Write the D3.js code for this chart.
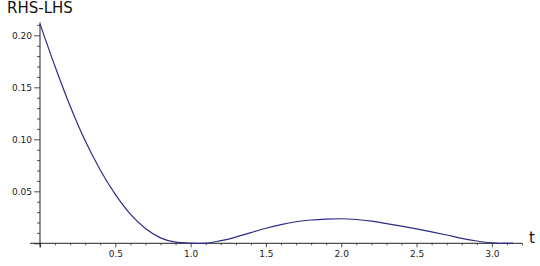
<!DOCTYPE html>
<html>
<head>
<meta charset="utf-8">
<script src="https://cdn.jsdelivr.net/npm/d3@7"></script>
<style>
  body { margin: 0; background: #fff; }
  svg { display: block; font-family: "DejaVu Sans", sans-serif; }
</style>
</head>
<body>
<svg id="chart" width="540" height="266"></svg>
<script>
// values
const tValues = [0, 0.1, 0.2, 0.3, 0.4, 0.5, 0.6, 0.7, 0.8, 0.9, 1.0, 1.07, 1.1, 1.2, 1.3, 1.4, 1.5, 1.6, 1.7, 1.8, 1.9, 2.0, 2.1, 2.2, 2.3, 2.4, 2.5, 2.6, 2.7, 2.8, 2.9, 3.0, 3.05, 3.14];
const diffValues = [0.211, 0.170, 0.132, 0.0985, 0.0705, 0.047, 0.028, 0.0142, 0.0052, 0.0011, 0.0002, 0, 0.0001, 0.0025, 0.006, 0.0102, 0.0145, 0.018, 0.0207, 0.0224, 0.0233, 0.0236, 0.0229, 0.0213, 0.019, 0.0165, 0.0138, 0.011, 0.008, 0.0048, 0.0022, 0.0004, 0, 0.0001];

const xMajor = [0, 0.5, 1.0, 1.5, 2.0, 2.5, 3.0];
const yMajor = [0, 0.05, 0.10, 0.15, 0.20];

const data = tValues.map((t, i) => ({ t: t, v: diffValues[i] }));

const svg = d3.select("#chart");

const x = d3.scaleLinear().domain([0, 3.2]).range([40, 522]);
const y = d3.scaleLinear().domain([0, 0.2]).range([243.3, 35.3]);

const axisColor = "#222";

// minor ticks every 0.1 on t, every 0.01 on the value axis
const xMinor = d3.range(1, 33).filter((d) => d % 5 !== 0).map((d) => d / 10);
const yMinor = d3.range(1, 22).filter((d) => d % 5 !== 0).map((d) => d / 100);

svg
  .append("g")
  .attr("transform", `translate(0,${y(0)})`)
  .call(d3.axisBottom(x).tickValues(xMinor).tickSize(2).tickFormat(""));

svg
  .append("g")
  .attr("transform", `translate(0,${y(0)})`)
  .call(
    d3
      .axisBottom(x)
      .tickValues(xMajor)
      .tickSize(4)
      .tickPadding(3)
      .tickFormat((d) => (d === 0 ? "" : d3.format(".1f")(d)))
  );

svg
  .append("g")
  .attr("transform", `translate(${x(0)},0)`)
  .call(d3.axisLeft(y).tickValues(yMinor).tickSize(3).tickFormat(""));

svg
  .append("g")
  .attr("transform", `translate(${x(0)},0)`)
  .call(
    d3
      .axisLeft(y)
      .tickValues(yMajor)
      .tickSize(6)
      .tickPadding(2)
      .tickFormat((d) => (d === 0 ? "" : d3.format(".2f")(d)))
  );

// axis lines drawn by hand so they can run past the ticks
svg.selectAll(".domain").remove();
svg.selectAll(".tick line").attr("stroke", axisColor).attr("stroke-width", 0.8);
svg
  .selectAll(".tick text")
  .attr("fill", axisColor)
  .attr("font-size", 9)
  .attr("font-family", "DejaVu Sans, sans-serif");

svg
  .append("line")
  .attr("x1", 30)
  .attr("x2", x(3.2))
  .attr("y1", y(0))
  .attr("y2", y(0))
  .attr("stroke", axisColor)
  .attr("stroke-width", 1);

svg
  .append("line")
  .attr("x1", x(0))
  .attr("x2", x(0))
  .attr("y1", y(0) + 4)
  .attr("y2", y(0.2125))
  .attr("stroke", axisColor)
  .attr("stroke-width", 1);

// the curve
const line = d3
  .line()
  .x((d) => x(d.t))
  .y((d) => y(d.v))
  .curve(d3.curveMonotoneX);

svg
  .append("path")
  .datum(data)
  .attr("fill", "none")
  .attr("stroke", "#2c2c86")
  .attr("stroke-width", 1.2)
  .attr("d", line);

// axis labels
svg
  .append("text")
  .attr("x", 7)
  .attr("y", 12.5)
  .attr("font-size", 15)
  .attr("fill", "#111")
  .text("RHS-LHS");

svg
  .append("text")
  .attr("x", 529)
  .attr("y", 243)
  .attr("font-size", 15)
  .attr("fill", "#111")
  .text("t");
</script>
</body>
</html>
